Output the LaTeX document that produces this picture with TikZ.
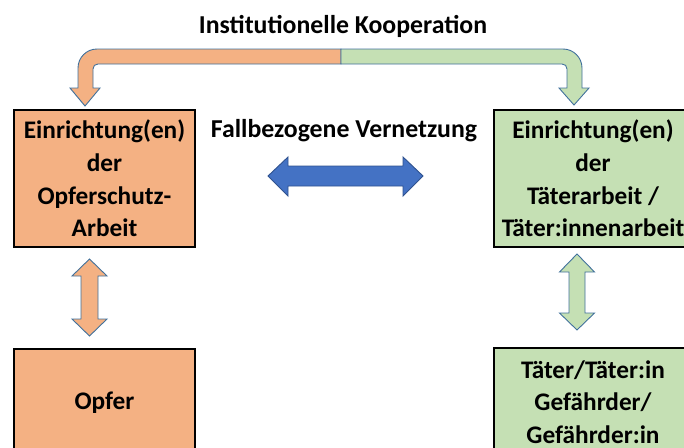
\documentclass[tikz,border=0pt]{standalone}
\usepackage{fontspec}
\setmainfont{Carlito}
\usepackage{tikz}
\usetikzlibrary{positioning}
\definecolor{opferorange}{HTML}{F4B183}
\definecolor{taetergreen}{HTML}{C5E0B4}
\definecolor{vernetzblue}{HTML}{4472C4}
\definecolor{arrowline}{HTML}{41719C}
\definecolor{darkblue}{HTML}{2F528F}
\tikzset{
  box/.style={draw=black, line width=1.4pt, align=center, inner sep=0pt, font=\fontsize{25.3}{32.7}\selectfont\bfseries},
  blockarrow/.style={draw=arrowline, line width=0.9pt, line join=miter},
  heading/.style={font=\fontsize{25.8}{28}\selectfont\bfseries, inner sep=0pt, anchor=base}
}
\begin{document}
\begin{tikzpicture}[x=1pt,y=-1pt]
\useasboundingbox (0,0) rectangle (684,447);
\clip (0,0) rectangle (684,447);
\node[box, fill=opferorange, minimum width=181pt, minimum height=137pt] (opfereinr) at (104.5,178.5) {Einrichtung(en)\\der\\Opferschutz-\\Arbeit};
\node[box, fill=taetergreen, minimum width=198pt, minimum height=137pt] (taetereinr) at (593,178.5) {Einrichtung(en)\\der\\Täterarbeit /\\Täter:innenarbeit};
\node[box, fill=opferorange, minimum width=181pt, minimum height=108pt] (opfer) at (104.5,403) {Opfer};
\node[box, fill=taetergreen, minimum width=198pt, minimum height=108pt] (taeter) at (593,402) {Täter/Täter:in\\Gefährder/\\Gefährder:in};
\node[heading] (kooperation) at (343,33) {Institutionelle Kooperation};
\node[heading] (vernetzung) at (344,137) {Fallbezogene Vernetzung};
\draw[blockarrow, fill=opferorange] (341,49) -- (97,49) .. controls (86.5,49) and (78,57.5) .. (78,68) -- (78,88) -- (70,88) -- (85,106) -- (100,88) -- (93,88) -- (93,69) .. controls (93,66) and (95,64) .. (98,64) -- (341,64) -- cycle;
\draw[blockarrow, fill=taetergreen] (341,49) -- (563,49) .. controls (573.5,49) and (582,57.5) .. (582,68) -- (582,88) -- (589,88) -- (574,105) -- (559,88) -- (567,88) -- (567,69) .. controls (567,66) and (565,64) .. (562,64) -- (341,64) -- cycle;
\draw[blockarrow, draw=darkblue, fill=vernetzblue] (268,176) -- (288,157) -- (288,166) -- (403,166) -- (403,157) -- (423,176) -- (403,196) -- (403,186) -- (288,186) -- (288,196) -- cycle;
\draw[blockarrow, fill=opferorange] (89.5,259) -- (107,276) -- (98,276) -- (98,319) -- (107,319) -- (89.5,336) -- (72,319) -- (81,319) -- (81,276) -- (72,276) -- cycle;
\draw[blockarrow, fill=taetergreen] (577,254) -- (594.5,272) -- (585,272) -- (585,313) -- (594.5,313) -- (577,330) -- (559.5,313) -- (569,313) -- (569,272) -- (559.5,272) -- cycle;
\end{tikzpicture}
\end{document}
